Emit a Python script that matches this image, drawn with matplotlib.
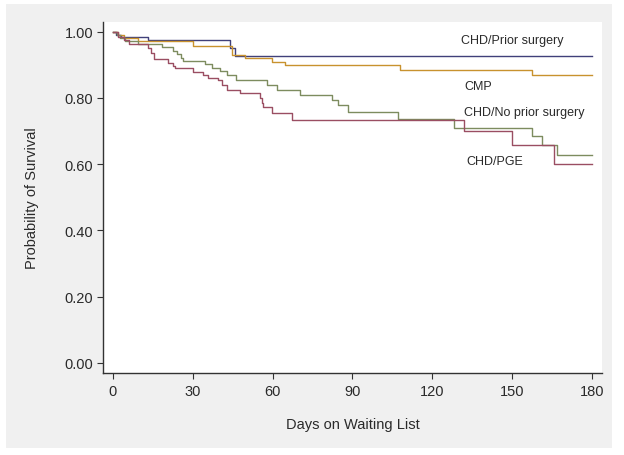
import matplotlib
matplotlib.use("Agg")
import matplotlib.pyplot as plt
from matplotlib.patches import Rectangle

# Kaplan-Meier step curves (day of drop, survival after drop)
prior_days = [0, 1, 3, 13, 44, 46, 180]
prior_surv = [1.0, 0.99, 0.983, 0.973, 0.950, 0.926, 0.926]

cmp_days = [0, 2, 4, 9.4, 30, 44.7, 49.6, 59.8, 64.6, 107.9, 157.5, 180]
cmp_surv = [1.0, 0.99, 0.98, 0.972, 0.957, 0.930, 0.920, 0.909, 0.899, 0.884, 0.870, 0.870]

noprior_days = [0, 1.5, 2.6, 4.5, 9.4, 18.4, 22.5, 24, 25.6, 26.3, 34.6, 37.2, 40.2,
                42.8, 46.2, 57.9, 61.6, 70.3, 82.3, 84.6, 88.3, 107.1, 128.1, 157.5,
                161.2, 166.9, 180]
noprior_surv = [1.0, 0.99, 0.980, 0.972, 0.962, 0.952, 0.940, 0.932, 0.920, 0.912, 0.902,
                0.890, 0.880, 0.868, 0.854, 0.839, 0.824, 0.809, 0.792, 0.777, 0.757,
                0.735, 0.709, 0.685, 0.658, 0.628, 0.628]

pge_days = [0, 2, 4, 6, 13.2, 14.2, 15.5, 20.8, 22.7, 23.3, 30.2, 33.9, 35.8, 39.6, 40.8,
            42.7, 47.7, 55.2, 55.9, 56.5, 59.6, 67.2, 131.9, 149.9, 165.7, 180]
pge_surv = [1.0, 0.985, 0.975, 0.962, 0.950, 0.935, 0.918, 0.905, 0.895, 0.891, 0.879,
            0.869, 0.859, 0.854, 0.839, 0.824, 0.814, 0.801, 0.784, 0.771, 0.754, 0.733,
            0.700, 0.659, 0.599, 0.599]

labels = ["CHD/Prior surgery", "CMP", "CHD/No prior surgery", "CHD/PGE"]
label_pos = [(131, 0.973), (132, 0.835), (132, 0.757), (133, 0.609)]
colors = ["#40407a", "#c8922e", "#7d8c5f", "#9a4e62"]

x_ticks = [0, 30, 60, 90, 120, 150, 180]
y_ticks = [0.0, 0.2, 0.4, 0.6, 0.8, 1.0]

plt.rcParams['font.family'] = ['Liberation Sans', 'DejaVu Sans']
text_col = "#2a2a2a"

fig = plt.figure(figsize=(6.24, 4.56), dpi=100)
# grey panel behind the plot area
fig.add_artist(Rectangle((0.0096, 0.0154), 0.9712, 0.9736, transform=fig.transFigure,
                         facecolor="#f0f0f0", edgecolor="none", zorder=-10))
ax = fig.add_axes([0.165, 0.180, 0.7997, 0.7697])
ax.set_facecolor("white")

series = [(prior_days, prior_surv), (cmp_days, cmp_surv),
          (noprior_days, noprior_surv), (pge_days, pge_surv)]
for (d, s), c in zip(series, colors):
    ax.step(d, s, where='post', color=c, linewidth=1.0)

for lab, (x, y) in zip(labels, label_pos):
    ax.text(x, y, lab, fontsize=9, color=text_col, va='center', ha='left')

ax.set_xlim(-3.76, 183.8)
ax.set_ylim(-0.030, 1.029)
ax.set_xticks(x_ticks)
ax.set_yticks(y_ticks)
ax.set_yticklabels(["%.2f" % v for v in y_ticks])

for side in ['top', 'right']:
    ax.spines[side].set_visible(False)
for side in ['left', 'bottom']:
    ax.spines[side].set_color("#333333")
    ax.spines[side].set_linewidth(1.0)

ax.tick_params(axis='both', direction='out', length=4, width=0.8, color="#333333",
               labelsize=10.5, labelcolor=text_col)
ax.tick_params(axis='x', pad=4)
ax.tick_params(axis='y', pad=3)

ax.set_xlabel("Days on Waiting List", fontsize=10.5, color=text_col, labelpad=14)
ax.set_ylabel("Probability of Survival", fontsize=10.5, color=text_col, labelpad=18)

fig.savefig("out.png", dpi=100)
